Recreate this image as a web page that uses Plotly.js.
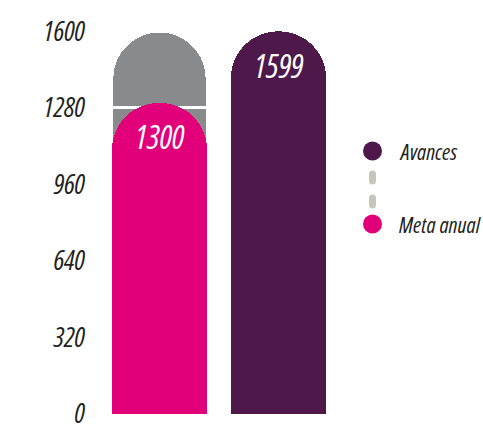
<!DOCTYPE html>
<html>
<head>
<meta charset="utf-8">
<script src="https://cdn.plot.ly/plotly-3.0.1.min.js"></script>
<style>
html,body{margin:0;padding:0;background:#fff}
#chart{width:483px;height:424px}
svg text{font-stretch:condensed}
</style>
</head>
<body>
<div id="chart"></div>
<script>
const categories = ['Meta anual', 'Avances'];
const metaAnual = [1300, null];
const avances = [null, 1599];
const trackSegments = [320, 320, 320, 320, 320];
const yTicks = [0, 320, 640, 960, 1280, 1600];
const legendLabels = ['Avances', 'Meta anual'];

const FONT = '"Open Sans", "Roboto Condensed", sans-serif';
const C_PURPLE = '#4f184b';
const C_MAGENTA = '#e1007a';
const C_GRAY = '#898a8c';
const C_DASH = '#c9c5b9';
const C_TEXT = '#231f20';

const L = 100, W = 238, H = 424;
const px = v => (v - L) / W;
const py = v => 1 - v / H;

const traces = [];
trackSegments.forEach(seg => {
  traces.push({
    type: 'bar', x: [categories[0]], y: [seg], xaxis: 'x', yaxis: 'y',
    marker: {color: C_GRAY, line: {color: '#ffffff', width: 3}},
    hoverinfo: 'skip', showlegend: false
  });
});
traces.push({
  type: 'bar', name: legendLabels[1], x: categories, y: metaAnual, xaxis: 'x2', yaxis: 'y',
  marker: {color: C_MAGENTA}, showlegend: false
});
traces.push({
  type: 'bar', name: legendLabels[0], x: categories, y: avances, xaxis: 'x2', yaxis: 'y',
  marker: {color: C_PURPLE}, showlegend: false
});

const valFont = {family: FONT, size: 32, color: '#ffffff', style: 'italic'};
const legFont = {family: FONT, size: 22, color: C_TEXT, style: 'italic'};
const annotations = [
  {xref: 'x2', yref: 'y', x: categories[0], y: metaAnual[0], text: String(metaAnual[0]),
   showarrow: false, yanchor: 'middle', yshift: -34, font: valFont},
  {xref: 'x2', yref: 'y', x: categories[1], y: avances[1], text: String(avances[1]),
   showarrow: false, yanchor: 'middle', yshift: -34, font: valFont},
  {xref: 'paper', yref: 'paper', x: px(397), y: py(151), xanchor: 'left', yanchor: 'middle',
   text: legendLabels[0], showarrow: false, font: legFont},
  {xref: 'paper', yref: 'paper', x: px(397), y: py(224), xanchor: 'left', yanchor: 'middle',
   text: legendLabels[1], showarrow: false, font: legFont}
];

const pill = 'M -3.5,-3.5 L -3.5,3.5 Q -3.5,7 0,7 Q 3.5,7 3.5,3.5 L 3.5,-3.5 Q 3.5,-7 0,-7 Q -3.5,-7 -3.5,-3.5 Z';
const shapes = [
  {type: 'circle', xref: 'paper', yref: 'paper', xsizemode: 'pixel', ysizemode: 'pixel',
   xanchor: px(372.5), yanchor: py(151), x0: -9.5, x1: 9.5, y0: -9.5, y1: 9.5,
   fillcolor: C_PURPLE, line: {width: 0}},
  {type: 'circle', xref: 'paper', yref: 'paper', xsizemode: 'pixel', ysizemode: 'pixel',
   xanchor: px(372.5), yanchor: py(224), x0: -9.5, x1: 9.5, y0: -9.5, y1: 9.5,
   fillcolor: C_MAGENTA, line: {width: 0}},
  {type: 'path', xref: 'paper', yref: 'paper', xsizemode: 'pixel', ysizemode: 'pixel',
   xanchor: px(372.5), yanchor: py(177.5), path: pill, fillcolor: C_DASH, line: {width: 0}},
  {type: 'path', xref: 'paper', yref: 'paper', xsizemode: 'pixel', ysizemode: 'pixel',
   xanchor: px(372.5), yanchor: py(201.5), path: pill, fillcolor: C_DASH, line: {width: 0}}
];

const layout = {
  width: 483, height: 424,
  margin: {l: L, r: 483 - L - W, t: 0, b: 0, pad: 0},
  paper_bgcolor: '#ffffff', plot_bgcolor: '#ffffff',
  barmode: 'stack', bargap: 0.2, barcornerradius: '50%',
  showlegend: false,
  xaxis: {type: 'category', categoryorder: 'array', categoryarray: categories, visible: false,
          range: [-0.5, 1.5], fixedrange: true},
  xaxis2: {type: 'category', categoryorder: 'array', categoryarray: categories, visible: false,
           overlaying: 'x', matches: 'x', range: [-0.5, 1.5]},
  yaxis: {range: [-42, 1730], tickmode: 'array', tickvals: yTicks, ticktext: yTicks.map(String),
          showgrid: false, zeroline: false, showline: false, ticks: '', ticklabelstandoff: 14,
          ticklabeloverflow: 'allow',
          tickfont: {family: FONT, size: 27, color: C_TEXT, style: 'italic'}, fixedrange: true},
  annotations: annotations,
  shapes: shapes
};

Plotly.newPlot('chart', traces, layout, {displayModeBar: false, staticPlot: true});
</script>
</body>
</html>
